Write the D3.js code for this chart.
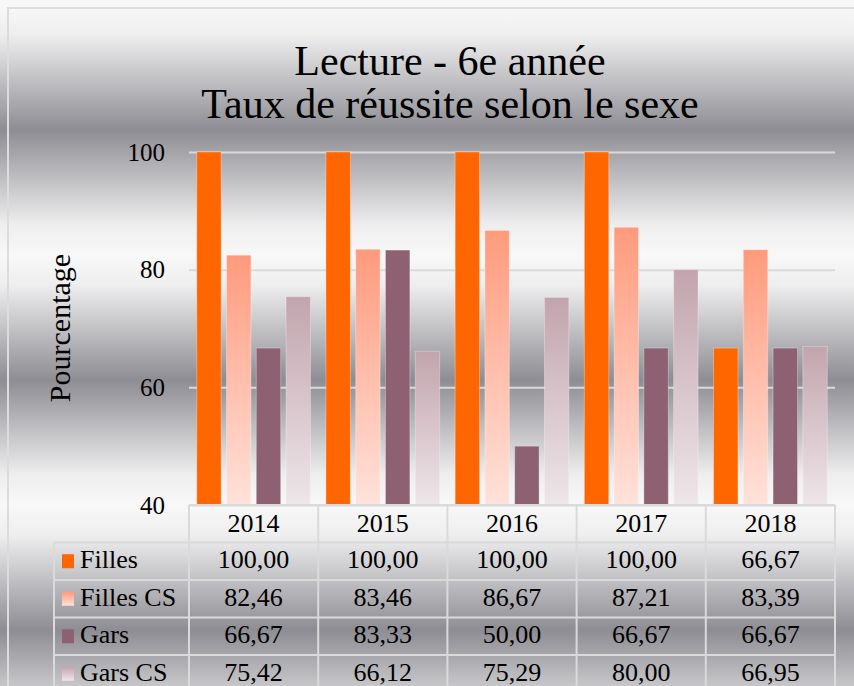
<!doctype html>
<html>
<head>
    <meta charset="utf-8">
    <style>
        body { margin: 0; }
        svg { display: block; font-family: "Liberation Serif", "DejaVu Serif", serif; }
    </style>
    <script src="https://d3js.org/d3.v7.min.js"></script>
</head>
<body>
    <svg width="854" height="686"></svg>
    <script>
        var years = ["2014", "2015", "2016", "2017", "2018"];
        var series = ["Filles", "Filles CS", "Gars", "Gars CS"];
        var filles = [100.00, 100.00, 100.00, 100.00, 66.67];
        var fillesCS = [82.46, 83.46, 86.67, 87.21, 83.39];
        var gars = [66.67, 83.33, 50.00, 66.67, 66.67];
        var garsCS = [75.42, 66.12, 75.29, 80.00, 66.95];
        var yTicks = [40, 60, 80, 100];

        var values = [filles, fillesCS, gars, garsCS];
        var fills = ["#ff6600", "url(#gFillesCS)", "#8e6172", "url(#gGarsCS)"];

        var svg = d3.select("svg"),
            xLeft = 189, xRight = 835,
            yTop = 152, yBottom = 505,
            rowH = 37.5;

        var fmt = d3.formatLocale({decimal: ",", thousands: " ", grouping: [3], currency: ["", ""]}).format(".2f");

        // gradients
        var defs = svg.append("defs");
        var bg = defs.append("linearGradient")
            .attr("id", "bg")
            .attr("gradientUnits", "userSpaceOnUse")
            .attr("x1", 0).attr("y1", 5)
            .attr("x2", 0).attr("y2", 255)
            .attr("spreadMethod", "repeat");
        bg.append("stop").attr("offset", 0).attr("stop-color", "#f8f8f8");
        bg.append("stop").attr("offset", 0.12).attr("stop-color", "#eeeeef");
        bg.append("stop").attr("offset", 0.5).attr("stop-color", "#8e8d93");
        bg.append("stop").attr("offset", 0.88).attr("stop-color", "#eeeeef");
        bg.append("stop").attr("offset", 1).attr("stop-color", "#f8f8f8");

        function barGrad(id, c0, c1) {
            var g = defs.append("linearGradient").attr("id", id)
                .attr("x1", 0).attr("y1", 0).attr("x2", 0).attr("y2", 1);
            g.append("stop").attr("offset", 0).attr("stop-color", c0);
            g.append("stop").attr("offset", 1).attr("stop-color", c1);
        }
        barGrad("gFillesCS", "#ff9a7c", "#ffe2da");
        barGrad("gGarsCS", "#c2a4ad", "#eee6e9");

        svg.append("rect")
           .attr("width", 854).attr("height", 686)
           .attr("fill", "url(#bg)");

        // chart frame
        svg.append("path")
           .attr("d", "M8,686V8H854")
           .attr("fill", "none")
           .attr("stroke", "#dcdcdc")
           .attr("stroke-width", 2);

        // title, two lines
        svg.append("text")
           .attr("x", 450).attr("y", 75)
           .attr("text-anchor", "middle")
           .attr("font-size", "42px")
           .text("Lecture - 6e année");
        svg.append("text")
           .attr("x", 450).attr("y", 118)
           .attr("text-anchor", "middle")
           .attr("font-size", "42px")
           .text("Taux de réussite selon le sexe");

        var x0 = d3.scaleBand().domain(years).range([xLeft, xRight]).paddingInner(0.12).paddingOuter(0.06),
            x1 = d3.scaleBand().domain(series).range([0, x0.bandwidth()]).paddingInner(0.18),
            y = d3.scaleLinear().domain([40, 100]).range([yBottom, yTop]);

        // y axis with gridlines
        var yAxis = svg.append("g")
           .attr("transform", "translate(" + xLeft + ",0)")
           .call(d3.axisLeft(y).tickValues(yTicks).tickSize(-(xRight - xLeft)).tickPadding(24).tickFormat(d3.format("d")));
        yAxis.select(".domain").remove();
        yAxis.selectAll("line").attr("stroke", "#dadada").attr("stroke-width", 2);
        yAxis.selectAll("text")
             .attr("font-family", "Liberation Serif")
             .attr("font-size", "25px")
             .attr("fill", "#000");

        svg.append("text")
           .attr("transform", "translate(70,328) rotate(-90)")
           .attr("text-anchor", "middle")
           .attr("font-size", "30px")
           .text("Pourcentage");

        // bars
        var groups = svg.selectAll(".grp")
            .data(years)
            .enter().append("g")
            .attr("class", "grp")
            .attr("transform", function(d) { return "translate(" + x0(d) + ",0)"; });

        groups.selectAll("rect")
            .data(function(d, i) {
                return series.map(function(s, j) { return {s: s, v: values[j][i], j: j}; });
            })
            .enter().append("rect")
            .attr("x", function(d) { return x1(d.s); })
            .attr("y", function(d) { return y(d.v); })
            .attr("width", x1.bandwidth())
            .attr("height", function(d) { return y(40) - y(d.v); })
            .attr("fill", function(d) { return fills[d.j]; })
            .attr("stroke", "rgba(255,255,255,0.3)")
            .attr("stroke-width", 1);

        // data table
        var step = x0.step(),
            half = step * x0.paddingInner() / 2,
            tableLeft = 54,
            lineCol = "#dadada";

        var table = svg.append("g")
            .attr("fill", "none")
            .attr("stroke", lineCol)
            .attr("stroke-width", 2);

        table.append("line")
             .attr("x1", xLeft).attr("x2", xRight)
             .attr("y1", yBottom).attr("y2", yBottom);
        d3.range(series.length + 1).forEach(function(i) {
            table.append("line")
                 .attr("x1", tableLeft).attr("x2", xRight)
                 .attr("y1", yBottom + rowH * (i + 1)).attr("y2", yBottom + rowH * (i + 1));
        });
        table.append("line")
             .attr("x1", tableLeft).attr("x2", tableLeft)
             .attr("y1", yBottom + rowH).attr("y2", 700);
        years.forEach(function(yr) {
            table.append("line")
                 .attr("x1", x0(yr) - half).attr("x2", x0(yr) - half)
                 .attr("y1", yBottom).attr("y2", 700);
        });
        table.append("line")
             .attr("x1", xRight).attr("x2", xRight)
             .attr("y1", yBottom).attr("y2", 700);

        svg.selectAll(".yr")
           .data(years)
           .enter().append("text")
           .attr("class", "yr")
           .attr("x", function(d) { return x0(d) + x0.bandwidth() / 2; })
           .attr("y", yBottom + rowH / 2 + 8)
           .attr("text-anchor", "middle")
           .attr("font-size", "26px")
           .text(function(d) { return d; });

        var rows = svg.selectAll(".row")
            .data(series)
            .enter().append("g")
            .attr("class", "row")
            .attr("transform", function(d, i) { return "translate(0," + (yBottom + rowH * (i + 1)) + ")"; });

        rows.append("rect")
            .attr("x", 62).attr("y", rowH / 2 - 7)
            .attr("width", 12).attr("height", 14)
            .attr("fill", function(d, i) { return fills[i]; });

        rows.append("text")
            .attr("x", 80).attr("y", rowH / 2 + 7)
            .attr("font-size", "26px")
            .text(function(d) { return d; });

        rows.selectAll(".val")
            .data(function(d, i) { return values[i]; })
            .enter().append("text")
            .attr("class", "val")
            .attr("x", function(d, k) { return x0(years[k]) + x0.bandwidth() / 2; })
            .attr("y", rowH / 2 + 7)
            .attr("text-anchor", "middle")
            .attr("font-size", "26px")
            .text(function(d) { return fmt(d); });
    </script>
</body>
</html>
